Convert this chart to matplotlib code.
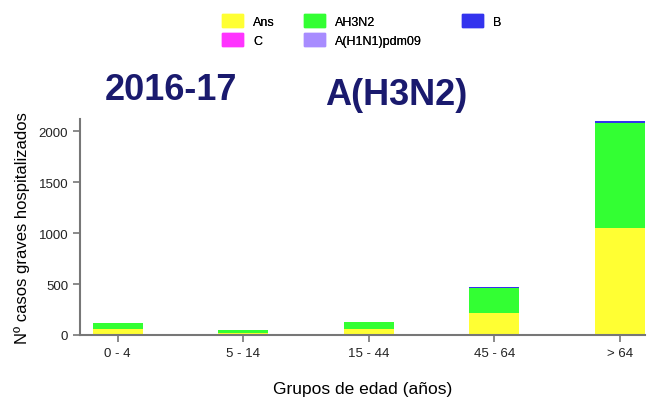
import matplotlib
matplotlib.use("Agg")
import matplotlib.pyplot as plt
from matplotlib.patches import Patch

plt.rcParams["font.family"] = ["Liberation Sans", "DejaVu Sans"]

categories = ["0 - 4", "5 - 14", "15 - 44", "45 - 64", "> 64"]
ans = [60, 15, 60, 220, 1055]
ah3n2 = [60, 35, 65, 240, 1025]
b = [2, 0, 3, 8, 20]
c = [0, 0, 0, 0, 0]
h1n1 = [0, 0, 0, 0, 0]

col_ans = "#FFFF33"
col_h3 = "#33FF33"
col_b = "#3333EE"
col_c = "#FF33FF"
col_h1 = "#A88CFF"

fig = plt.figure(figsize=(6.48, 4.06), dpi=100)
ax = fig.add_axes([80/648, 70/406, 565/648, (336-120)/406])
x = list(range(len(categories)))
w = 0.4
bottom = [0]*5
for vals, col in [(ans, col_ans), (ah3n2, col_h3), (b, col_b), (c, col_c), (h1n1, col_h1)]:
    ax.bar(x, vals, w, bottom=bottom, color=col, edgecolor="none")
    bottom = [bb + v for bb, v in zip(bottom, vals)]

ax.set_xlim(-0.3, 4.2)
ax.set_ylim(0, 2120)
ax.set_yticks([0, 500, 1000, 1500, 2000])
ax.set_xticks(x)
ax.set_xticklabels(categories)
for s in ["top", "right"]:
    ax.spines[s].set_visible(False)
for s in ["left", "bottom"]:
    ax.spines[s].set_color("#777777")
    ax.spines[s].set_linewidth(1.5)
ax.tick_params(colors="#777777", labelcolor="#222222", labelsize=9.5, length=5, width=1.2)
ax.set_ylabel("Nº casos graves hospitalizados", fontsize=12, labelpad=6)
ax.set_xlabel("Grupos de edad (años)", fontsize=12.5, labelpad=16)

fig.text(105/648, 1-91/406, "2016-17", fontsize=26, fontweight="bold", color="#1a1a6e", va="center", ha="left")
fig.text(325/648, 1-96/406, "A(H3N2)", fontsize=26, fontweight="bold", color="#1a1a6e", va="center", ha="left")

columns = [
    ([Patch(color=col_ans, label="Ans"), Patch(color=col_c, label="C")], 222),
    ([Patch(color=col_h3, label="AH3N2"), Patch(color=col_h1, label="A(H1N1)pdm09")], 304),
    ([Patch(color=col_b, label="B")], 462),
]
for hs, px in columns:
    leg = fig.legend(handles=hs, loc="upper left", bbox_to_anchor=(px/648, 1-15/406),
                     frameon=False, fontsize=9, handlelength=1.7, handleheight=1.2,
                     labelspacing=0.45, handletextpad=0.8, borderpad=0, borderaxespad=0)
    fig.add_artist(leg)

fig.savefig("out.png", dpi=100)
